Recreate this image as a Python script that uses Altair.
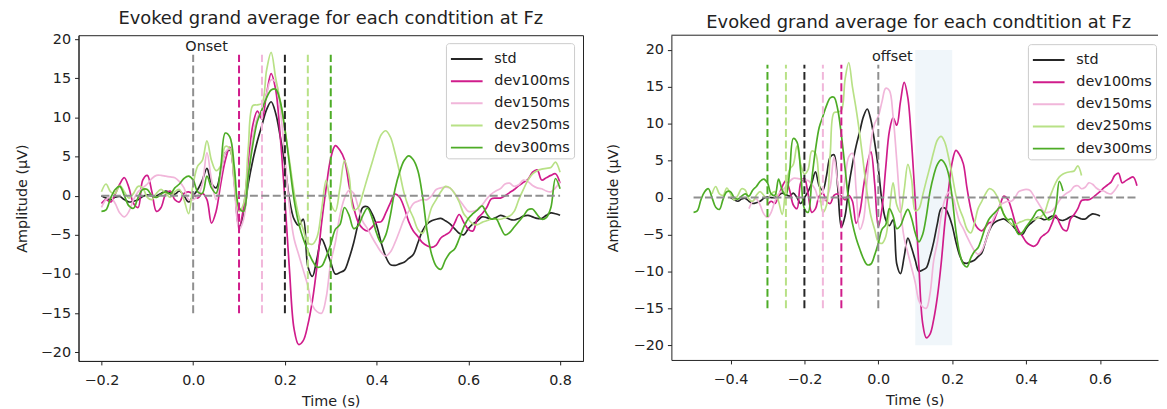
import altair as alt
import pandas as pd

# sample grid (s)
times = [round(-0.2 + 0.01 * i, 2) for i in range(101)]

std = [0.0, -0.3, -0.5, -0.2, -0.1, -0.5, -0.8, -0.7, -0.5, -0.1,
       0.1, 0.0, 0.0, 0.3, 0.6, 0.4, 0.2, 0.6, 0.0, -0.8,
       0.0, 0.8, 2.0, 3.5, 1.6, 1.0, 3.0, 5.5, 5.8, 1.5,
       -4.0, -2.5, 1.5, 4.5, 7.0, 9.0, 11.0, 12.0, 10.5, 7.5,
       4.0, -0.5, -3.0, -3.8, -3.0, -9.0, -10.3, -8.0, -5.5, -6.8,
       -8.5, -10.0, -9.8, -9.5, -8.0, -6.0, -3.5, -1.5, -1.4, -2.3,
       -3.8, -6.0, -7.8, -8.8, -8.9, -8.7, -8.5, -8.0, -7.5, -6.0,
       -4.5, -3.6, -3.2, -3.0, -2.9, -3.2, -3.6, -4.2, -4.8, -5.0,
       -4.2, -3.6, -3.2, -2.7, -2.8, -3.0, -2.8, -2.5, -2.7, -3.0,
       -3.1, -2.9, -2.6, -2.5, -2.7, -2.9, -2.9, -2.5, -2.2, -2.3,
       -2.5]

dev100 = [-1.0, -0.5, -0.8, 0.2, 1.5, 2.3, 1.0, -1.0, -1.5, 2.0,
          2.6, 0.5, -2.0, -1.5, 0.2, 0.6, -0.5, -0.8, 0.3, 0.5,
          0.2, -0.3, 0.3, -0.5, -3.5, -2.0, 1.5, 4.5, 6.2, 2.0,
          -4.0, -1.5, 4.0, 9.0, 10.8, 9.8, 13.0, 15.6, 13.5, 7.5,
          -0.5, -9.5, -17.0, -19.0, -18.5, -16.5, -13.4, -9.0, -3.5, 1.0,
          4.8, 6.4, 5.8, 4.6, 1.3, -1.5, -3.4, -4.2, -4.5, -4.0,
          -3.4, -3.3, -2.2, -0.9, 0.2, -0.2, -1.5, -3.3, -4.5, -5.2,
          -6.0, -6.4, -6.6, -6.3, -5.4, -5.0, -4.6, -3.5, -2.4, -3.4,
          -4.3, -4.5, -2.9, -2.3, -1.5, -0.4, -0.3, -0.3, 0.0, 0.4,
          0.8, 1.3, 1.7, 2.1, 3.0, 3.3, 2.0, 2.3, 2.6, 2.8,
          1.6]

dev150 = [-1.5, -0.5, -0.2, -1.0, -2.2, -2.7, -2.0, -0.5, 0.5, 1.0,
          1.5, 2.2, 2.6, 2.6, 2.5, 2.4, 2.3, 1.8, 1.0, -0.5,
          -0.5, 0.0, 1.5, 5.5, 2.0, -0.5, 2.5, 5.5, 6.0, 1.0,
          -4.3, -3.0, 2.5, 7.5, 10.0, 11.0, 13.0, 14.8, 14.5, 11.0,
          5.0, -1.5, -5.5, -7.5, -9.5, -11.5, -14.0, -14.8, -15.0, -13.0,
          -8.5, -6.0, -2.5, -0.3, 0.7, 0.3, -1.5, -3.3, -4.2, -5.3,
          -6.3, -7.2, -7.7, -7.2, -6.0, -4.5, -3.0, -2.0, -1.0, -0.7,
          -0.5, -0.5, 0.0, 0.8, 1.0, 1.1, 1.0, 0.3, -0.5, -1.3,
          -2.0, -2.0, -1.8, -1.2, -0.4, 0.2, 0.6, 0.9, 1.5, 1.6,
          1.2, 1.4, 2.0, 1.8, 1.3, 1.0, 0.9, 0.6, 0.5, 1.0,
          1.8]

dev250 = [0.5, 1.5, 0.5, 0.3, 1.3, 0.5, -0.3, 0.3, 1.2, 1.0,
          -0.2, -0.5, 0.3, 0.8, 0.3, -0.2, 0.5, 0.8, -0.5, -2.3,
          1.5, 3.8, 4.5, 7.0, 4.5, 3.2, 3.8, 6.3, 6.0, 2.0,
          -2.0, -1.0, 6.0, 11.5, 11.6, 11.8, 16.0, 18.3, 15.0, 12.0,
          8.5, 4.5, 0.5, -2.5, -4.3, -6.0, -6.2, -5.3, -1.8, 2.0,
          -1.0, -2.0, 1.0, 4.5, 2.5, -1.8, -1.5, 0.3, 2.3, 4.2,
          6.2, 7.8, 8.3, 7.5, 5.5, 3.0, 0.3, -1.5, -2.8, -4.3,
          -4.8, -3.5, -1.5, -0.5, 0.5, 1.2, 1.0, 0.3, -0.8, -2.3,
          -3.0, -3.6, -3.7, -3.4, -3.2, -3.0, -3.0, -3.0, -2.8, -2.6,
          -2.0, -0.5, 0.8, 2.0, 2.8, 3.2, 3.4, 3.5, 3.6, 4.3,
          3.0]

dev300 = [-2.0, -1.8, -0.3, 0.8, 1.2, 0.0, -1.3, -1.6, -0.2, 0.8,
          0.8, 0.0, -0.2, 0.2, 0.5, 0.2, 1.0, 1.5, 2.2, 2.5,
          2.0, 0.5, 0.3, 2.5, 1.0, 0.3, 3.5, 8.0, 7.5, 3.5,
          -1.5, -2.0, 2.5, 6.5, 9.5, 11.0, 12.5, 13.5, 13.6, 12.0,
          8.5, 4.0, -0.5, -3.5, -5.5, -7.0, -8.3, -9.1, -9.0, -7.8,
          -6.2, -4.3, -3.7, -1.5, -2.5, -4.2, -3.8, -2.5, -1.6, -2.8,
          -4.8, -6.0, -5.0, -2.5, 0.8, 3.0, 4.5, 5.1, 4.6, 3.2,
          0.0, -4.5, -7.5, -9.0, -9.4, -8.2, -7.3, -6.8, -5.5, -4.0,
          -2.9, -2.3, -1.8, -1.3, -2.3, -3.0, -2.9, -4.0, -5.0, -4.7,
          -4.0, -3.3, -2.6, -1.8, -1.7, -2.4, -3.0, -2.8, -1.5, 2.2,
          0.9]

conditions = ["std", "dev100ms", "dev150ms", "dev250ms", "dev300ms"]
durations = [0.2, 0.1, 0.15, 0.25, 0.3]
colors = ["#262626", "#d01c8b", "#f1b6da", "#b8e186", "#4dac26"]
series = [std, dev100, dev150, dev250, dev300]

rows = []
for c, d, vals in zip(conditions, durations, series):
    for t, v in zip(times, vals):
        rows.append({"cond": c, "t": t, "v": v, "dur": d})
df = pd.DataFrame(rows)

gray = "#8f8f8f"
ink = "#222222"
TX = "Time (s)"
TY = "Amplitude (µV)"

vl_left = pd.DataFrame({"t": [0.0] + durations, "col": [gray] + colors,
                        "v": [-15] * 6, "v2": [18] * 6})
vl_right = pd.DataFrame({"t": [0.0] + [-d for d in durations], "col": [gray] + colors,
                         "v": [-15] * 6, "v2": [18] * 6})
hl_left = pd.DataFrame({"t": [-0.2], "t2": [0.8], "v": [0.0]})
hl_right = pd.DataFrame({"t": [-0.5], "t2": [0.7], "v": [0.0]})
txt_left = pd.DataFrame({"t": [-0.017], "v": [19.0], "label": ["Onset"]})
txt_right = pd.DataFrame({"t": [-0.017], "v": [19.0], "label": ["offset"]})
span_right = pd.DataFrame({"t": [0.1], "t2": [0.2], "v": [-20], "v2": [20]})

xdom_l = [-0.25, 0.85]
ydom_l = [-21.1, 20.5]
xdom_r = [-0.56, 0.757]
ydom_r = [-22.0, 22.0]
top_right = pd.DataFrame({"t": [xdom_r[0]], "t2": [xdom_r[1]], "v": [ydom_r[1]]})

yticks = [-20, -15, -10, -5, 0, 5, 10, 15, 20]
xticks_l = [-0.2, 0.0, 0.2, 0.4, 0.6, 0.8]
xticks_r = [-0.4, -0.2, 0.0, 0.2, 0.4, 0.6]


def xenc(dom, ticks, field="t"):
    return alt.X(f"{field}:Q", title=TX,
                 scale=alt.Scale(domain=dom, nice=False, zero=False),
                 axis=alt.Axis(values=ticks, format=".1f", labelPadding=9, titlePadding=7))


def yenc(dom, tp):
    return alt.Y("v:Q", title=TY,
                 scale=alt.Scale(domain=dom, nice=False, zero=False),
                 axis=alt.Axis(values=yticks, format="d", labelPadding=4, titlePadding=tp))


def legend(lx, ly):
    return alt.Legend(title=None, orient="none", legendX=lx, legendY=ly,
                      symbolType="M-1,0H1.9", symbolSize=484, symbolStrokeWidth=2,
                      labelOffset=20.7, padding=4, rowPadding=3.3,
                      fillColor="rgba(255,255,255,0.85)", strokeColor="#cccccc",
                      cornerRadius=3, labelFontSize=14.5, labelColor=ink,
                      labelExpr="datum.label == 'std' ? '\u00a0std' : datum.label")


def panel(xdom, ydom, xticks, shift, vl, hl, txt, lx, ly, tp):
    base = alt.Chart(df)
    if shift:
        base = base.transform_calculate(ts="datum.t - datum.dur")
        xf = "ts"
    else:
        xf = "t"
    lines = base.mark_line(strokeWidth=1.7, interpolate="catmull-rom").encode(
        x=xenc(xdom, xticks, xf),
        y=yenc(ydom, tp),
        color=alt.Color("cond:N", scale=alt.Scale(domain=conditions, range=colors),
                        sort=conditions, legend=legend(lx, ly)),
    )
    vrules = alt.Chart(vl).mark_rule(strokeWidth=2, strokeDash=[8, 3.5]).encode(
        x=xenc(xdom, xticks), y=yenc(ydom, tp), y2="v2:Q",
        color=alt.Color("col:N", scale=None),
    )
    hrule = alt.Chart(hl).mark_rule(strokeWidth=2, strokeDash=[8, 3.5], color=gray).encode(
        x=xenc(xdom, xticks), x2="t2:Q", y=yenc(ydom, tp),
    )
    label = alt.Chart(txt).mark_text(align="left", baseline="middle", fontSize=14.5,
                                     color=ink).encode(
        x=xenc(xdom, xticks), y=yenc(ydom, tp), text="label:N",
    )
    return lines, vrules, hrule, label


title_text = "Evoked grand average for each condtition at Fz"

l_lines, l_v, l_h, l_t = panel(xdom_l, ydom_l, xticks_l, False,
                               vl_left, hl_left, txt_left, 370, 8, 11)
left = alt.layer(l_lines, l_v, l_h, l_t).properties(
    width=508, height=328, title=alt.Title(title_text))

RTP = 13
r_lines, r_v, r_h, r_t = panel(xdom_r, ydom_r, xticks_r, True,
                               vl_right, hl_right, txt_right, 359, 9, RTP)
span = alt.Chart(span_right).mark_rect(color="#f0f6fa").encode(
    x=xenc(xdom_r, xticks_r), x2="t2:Q",
    y=yenc(ydom_r, RTP), y2="v2:Q",
)
top_line = alt.Chart(top_right).mark_rule(color=ink, strokeWidth=1).encode(
    x=xenc(xdom_r, xticks_r), x2="t2:Q",
    y=yenc(ydom_r, RTP),
)
right = alt.layer(span, r_lines, r_v, r_h, r_t, top_line).properties(
    width=490, height=327, title=alt.Title(title_text, dx=4),
    view=alt.ViewBackground(stroke="transparent"))

chart = alt.hconcat(left, right, spacing=20).resolve_scale(
    color="independent"
).resolve_legend(
    color="independent"
).properties(
    padding={"left": 5, "top": 0, "right": 0, "bottom": 0}
).configure(font="DejaVu Sans").configure_view(
    stroke=ink, strokeWidth=1
).configure_axis(
    grid=False, domainColor=ink, tickColor=ink, labelColor=ink, titleColor=ink,
    labelFontSize=14.5, titleFontSize=14.5, titleFontWeight="normal", tickSize=4,
    labelFont="DejaVu Sans", titleFont="DejaVu Sans",
).configure_title(
    fontSize=18, fontWeight="normal", color=ink, offset=3, anchor="middle", font="DejaVu Sans"
)

chart.save("out.html", embed_options={"renderer": "svg", "actions": False})
